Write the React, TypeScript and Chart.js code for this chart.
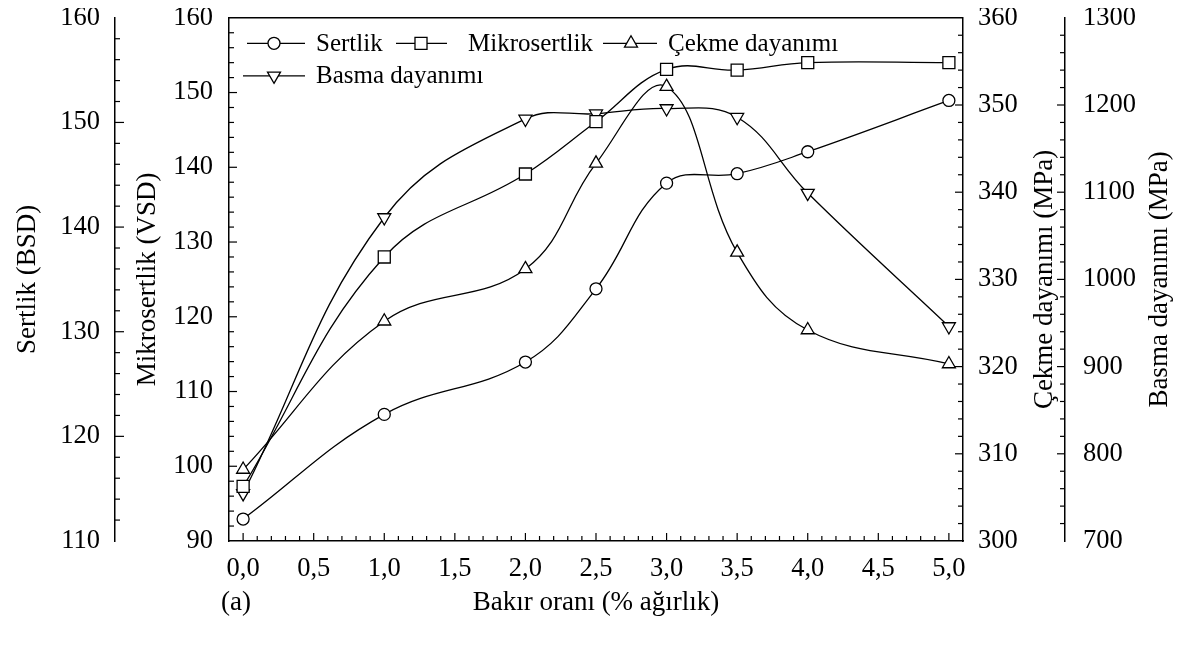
import React, { useEffect, useRef } from 'react';
import { Chart, registerables } from 'chart.js';

Chart.register(...registerables);

// ---- data ----
const copperRatio = [0, 1, 2, 2.5, 3, 3.5, 4, 5];
const sertlik = [112.1, 122.1, 127.1, 134.1, 144.2, 145.1, 147.2, 152.1];
const mikrosertlik = [97.3, 128.0, 139.1, 146.1, 153.1, 153.0, 154.0, 154.0];
const cekmeDayanimi = [308.2, 325.2, 331.2, 343.3, 352.1, 333.1, 324.2, 320.3];
const basmaDayanimi = [754.6, 1071, 1184, 1190, 1196, 1186, 1099, 946];

const xTicks = [0, 0.5, 1, 1.5, 2, 2.5, 3, 3.5, 4, 4.5, 5];
const sertlikTicks = [110, 120, 130, 140, 150, 160];
const mikroTicks = [90, 100, 110, 120, 130, 140, 150, 160];
const cekmeTicks = [300, 310, 320, 330, 340, 350, 360];
const basmaTicks = [700, 800, 900, 1000, 1100, 1200, 1300];

const seriesLabels = ['Sertlik', 'Mikrosertlik', 'Çekme dayanımı', 'Basma dayanımı'];
const xTitle = 'Bakır oranı (% ağırlık)';
const yTitles = ['Sertlik (BSD)', 'Mikrosertlik (VSD)', 'Çekme dayanımı (MPa)', 'Basma dayanımı (MPa)'];
const panelLabel = '(a)';

// ---- styles ----
const FONT = "'Liberation Serif', 'Times New Roman', serif";
const tickFont = { family: FONT, size: 26.5, lineHeight: 1.2 };
const titleFont = { family: FONT, size: 27, lineHeight: 1.2 };
const LEGEND_SIZE = 25;

const W = 1173;
const H = 634;

const pts = (ys: number[]) => copperRatio.map((x, i) => ({ x, y: ys[i] }));

const setTicks = (arr: number[]) => (s: any) => {
  s.ticks = arr.map((v) => ({ value: v }));
};
const fixWidth = (w: number) => (s: any) => {
  s.width = w;
  s.paddingTop = 0;
  s.paddingBottom = 0;
  s.paddingLeft = 0;
  s.paddingRight = 0;
};

const markerStyles = [
  { pointStyle: 'circle', radius: 6, rotation: 0 },
  { pointStyle: 'rect', radius: 8.5, rotation: 0 },
  { pointStyle: 'triangle', radius: 7.5, rotation: 0 },
  { pointStyle: 'triangle', radius: 7.5, rotation: 180 },
];

function drawMarker(ctx: CanvasRenderingContext2D, kind: number, x: number, y: number) {
  const m = markerStyles[kind];
  ctx.beginPath();
  if (m.pointStyle === 'circle') {
    ctx.arc(x, y, m.radius, 0, Math.PI * 2);
  } else if (m.pointStyle === 'rect') {
    const s = Math.SQRT1_2 * m.radius;
    ctx.rect(x - s, y - s, 2 * s, 2 * s);
  } else {
    const sign = m.rotation ? -1 : 1;
    const r = m.radius;
    ctx.moveTo(x, y - sign * r);
    ctx.lineTo(x + r * Math.sin((2 * Math.PI) / 3), y + sign * r * 0.5);
    ctx.lineTo(x - r * Math.sin((2 * Math.PI) / 3), y + sign * r * 0.5);
    ctx.closePath();
  }
  ctx.fillStyle = '#fff';
  ctx.fill();
  ctx.stroke();
}

const decorPlugin = {
  id: 'decor',
  afterDraw(chart: any) {
    const { ctx, chartArea: ca, scales } = chart;
    ctx.save();
    ctx.strokeStyle = '#000';
    ctx.fillStyle = '#000';
    ctx.lineWidth = 1.5;

    // top frame line
    ctx.beginPath();
    ctx.moveTo(ca.left, ca.top);
    ctx.lineTo(ca.right, ca.top);
    ctx.stroke();

    const MAJ = 8;
    const MIN = 5;
    ctx.lineWidth = 1.2;

    const yAxes = [
      { scale: scales.ySert, major: sertlikTicks, step: 2, x: scales.ySert.right, dir: 1, maj: 9 },
      { scale: scales.yMikro, major: mikroTicks, step: 2, x: ca.left, dir: 1, maj: MAJ },
      { scale: scales.yCek, major: cekmeTicks, step: 2, x: ca.right, dir: -1, maj: MAJ },
      { scale: scales.yBas, major: basmaTicks, step: 20, x: scales.yBas.left, dir: -1, maj: MAJ },
    ];
    yAxes.forEach((a) => {
      const { min, max } = a.scale;
      const n = Math.round((max - min) / a.step);
      for (let k = 1; k < n; k++) {
        const v = min + k * a.step;
        const isMajor = a.major.some((t) => Math.abs(t - v) < 1e-6);
        const len = isMajor ? a.maj : MIN;
        const py = a.scale.getPixelForValue(v);
        ctx.beginPath();
        ctx.moveTo(a.x, py);
        ctx.lineTo(a.x + a.dir * len, py);
        ctx.stroke();
      }
    });

    const xs = scales.x;
    const nx = Math.round((xs.max - xs.min) / 0.1);
    for (let k = 1; k < nx; k++) {
      const v = xs.min + k * 0.1;
      const isMajor = xTicks.some((t) => Math.abs(t - v) < 1e-6);
      const px = xs.getPixelForValue(v);
      ctx.beginPath();
      ctx.moveTo(px, ca.bottom);
      ctx.lineTo(px, ca.bottom - (isMajor ? MAJ : MIN));
      ctx.stroke();
    }

    // right-side axis titles (read bottom to top)
    ctx.font = `${titleFont.size}px ${FONT}`;
    ctx.textAlign = 'center';
    ctx.textBaseline = 'middle';
    const yMid = (ca.top + ca.bottom) / 2;
    [
      { text: yTitles[2], x: scales.yCek.right - 20 },
      { text: yTitles[3], x: scales.yBas.right - 21 },
    ].forEach((t) => {
      ctx.save();
      ctx.translate(t.x, yMid);
      ctx.rotate(-Math.PI / 2);
      ctx.fillText(t.text, 0, 0);
      ctx.restore();
    });

    // panel label
    ctx.fillText(panelLabel, ca.left + 7, scales.x.bottom - 39);

    // legend
    ctx.font = `${LEGEND_SIZE}px ${FONT}`;
    ctx.textAlign = 'left';
    ctx.lineWidth = 1.3;
    const rows = [ca.top + 25.5, ca.top + 58];
    const entries = [
      { kind: 0, row: 0, l0: 18, l1: 76, m: 45, t: 87 },
      { kind: 1, row: 0, l0: 167, l1: 218, m: 192, t: 239 },
      { kind: 2, row: 0, l0: 374, l1: 428, m: 402, t: 439 },
      { kind: 3, row: 1, l0: 14, l1: 76, m: 45, t: 87 },
    ];
    entries.forEach((e) => {
      const y = rows[e.row];
      ctx.beginPath();
      ctx.moveTo(ca.left + e.l0, y);
      ctx.lineTo(ca.left + e.l1, y);
      ctx.stroke();
      drawMarker(ctx, e.kind, ca.left + e.m, y);
      ctx.fillStyle = '#000';
      ctx.fillText(seriesLabels[e.kind], ca.left + e.t, y + 1);
    });

    ctx.restore();
  },
};

const makeDataset = (idx: number, ys: number[], axis: string) => ({
  label: seriesLabels[idx],
  data: pts(ys),
  yAxisID: axis,
  borderColor: '#000',
  borderWidth: 1.3,
  backgroundColor: '#fff',
  pointBackgroundColor: '#fff',
  pointBorderColor: '#000',
  pointBorderWidth: 1.3,
  pointStyle: markerStyles[idx].pointStyle,
  pointRadius: markerStyles[idx].radius,
  pointRotation: markerStyles[idx].rotation,
  tension: 0.4,
  fill: false,
});

export default function App() {
  const ref = useRef<HTMLCanvasElement>(null);

  useEffect(() => {
    if (!ref.current) return;
    const yCommon = (ticks: number[], pad: number) => ({
      type: 'linear' as const,
      afterBuildTicks: setTicks(ticks),
      grid: { display: false, drawTicks: false },
      border: { display: true, color: '#000', width: 1.5 },
      ticks: {
        font: tickFont,
        color: '#000',
        padding: pad,
        autoSkip: false,
        callback: (v: any) => String(v),
      },
    });

    const chart = new Chart(ref.current, {
      type: 'line',
      data: {
        datasets: [
          makeDataset(0, sertlik, 'ySert'),
          makeDataset(1, mikrosertlik, 'yMikro'),
          makeDataset(2, cekmeDayanimi, 'yCek'),
          makeDataset(3, basmaDayanimi, 'yBas'),
        ],
      },
      options: {
        responsive: false,
        devicePixelRatio: 1,
        animation: false,
        events: [],
        layout: { padding: { top: 6, left: 0, right: 0, bottom: 0 } },
        plugins: {
          legend: { display: false },
          tooltip: { enabled: false },
        },
        scales: {
          x: {
            type: 'linear',
            position: 'bottom',
            min: -0.1,
            max: 5.1,
            afterBuildTicks: setTicks(xTicks),
            afterFit: (s: any) => {
              s.height = 101;
              s.paddingLeft = 0;
              s.paddingRight = 0;
              s.paddingTop = 0;
              s.paddingBottom = 0;
            },
            grid: { display: false, drawTicks: false },
            border: { display: true, color: '#000', width: 1.5 },
            ticks: {
              font: tickFont,
              color: '#000',
              padding: 12,
              autoSkip: false,
              maxRotation: 0,
              callback: (v: any) => Number(v).toFixed(1).replace('.', ','),
            },
            title: {
              display: true,
              text: xTitle,
              font: titleFont,
              color: '#000',
              padding: { top: 0, bottom: 23 },
            },
          },
          ySert: {
            ...yCommon(sertlikTicks, 15),
            position: 'left',
            weight: 1,
            min: 110,
            max: 160,
            afterFit: fixWidth(107),
            title: { display: true, text: yTitles[0], font: titleFont, color: '#000', padding: { top: 4, bottom: 0 } },
          },
          yMikro: {
            ...yCommon(mikroTicks, 16),
            position: 'left',
            weight: 0,
            min: 90,
            max: 160,
            afterFit: fixWidth(114),
            title: { display: true, text: yTitles[1], font: titleFont, color: '#000', padding: { top: 17, bottom: 0 } },
          },
          yCek: {
            ...yCommon(cekmeTicks, 15),
            position: 'right',
            weight: 0,
            min: 300,
            max: 360,
            afterFit: fixWidth(102),
          },
          yBas: {
            ...yCommon(basmaTicks, 18),
            position: 'right',
            weight: 1,
            min: 700,
            max: 1300,
            afterFit: fixWidth(116),
          },
        },
      } as any,
      plugins: [decorPlugin],
    });
    return () => chart.destroy();
  }, []);

  return (
    <div style={{ width: W, height: H }}>
      <canvas ref={ref} width={W} height={H} style={{ display: 'block' }} />
    </div>
  );
}
